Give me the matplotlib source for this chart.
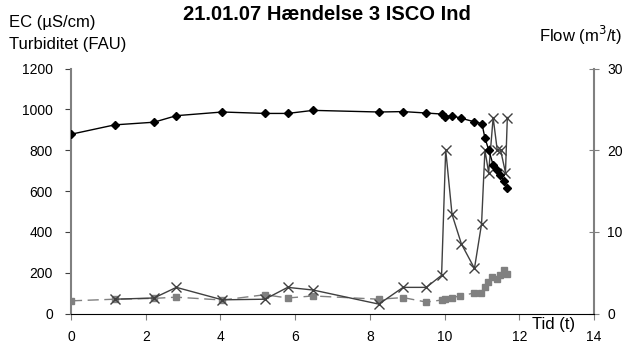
import matplotlib
matplotlib.use('Agg')
from matplotlib import pyplot as plt

plt.rcParams['font.family'] = ['Liberation Sans', 'DejaVu Sans']

# EC (left axis)
ec_t = [0, 1.17, 2.22, 2.82, 4.05, 5.19, 5.80, 6.48, 8.24, 8.89, 9.51, 9.92, 10.0,
        10.2, 10.45, 10.78, 11.0, 11.08, 11.18, 11.30, 11.41, 11.49, 11.59, 11.68]
ec = [878, 924, 937, 969, 987, 980, 980, 995, 987, 989, 982, 977, 964,
      969, 956, 940, 930, 860, 802, 728, 704, 680, 650, 615]

# Turbidity (left axis)
turb_t = [1.17, 2.22, 2.82, 4.05, 5.19, 5.80, 6.48, 8.24, 8.89, 9.51, 9.92, 10.03,
          10.2, 10.45, 10.8, 10.99, 11.08, 11.18, 11.30, 11.41, 11.50, 11.63, 11.68]
turb = [70, 76, 128, 67, 70, 128, 115, 46, 128, 128, 187, 802,
        485, 341, 221, 439, 800, 690, 960, 800, 800, 690, 960]

# Flow (right axis)
flow_t = [0, 1.17, 2.22, 2.82, 4.05, 5.19, 5.80, 6.48, 8.24, 8.89, 9.51, 9.92, 10.02,
          10.2, 10.42, 10.78, 10.97, 11.07, 11.16, 11.28, 11.39, 11.48, 11.59, 11.68]
flow = [1.55, 1.75, 1.85, 2.0, 1.65, 2.3, 1.9, 2.15, 1.75, 1.95, 1.4, 1.65, 1.8,
        1.95, 2.15, 2.5, 2.55, 3.25, 3.8, 4.5, 4.2, 4.7, 5.3, 4.85]

fig = plt.figure(figsize=(6.26, 3.45), dpi=100)
ax = fig.add_axes([0.1134, 0.0913, 0.8355, 0.7101])
ax2 = ax.twinx()

ax2.plot(flow_t, flow, color='#808080', lw=1, ls=(0, (8, 4)), marker='s',
         markersize=4.5, zorder=1)
ax.plot(turb_t, turb, color='#404040', lw=1, marker='x', markersize=7.5,
        markeredgewidth=1, zorder=2)
ax.plot(ec_t, ec, color='black', lw=1, marker='D', markersize=4, zorder=3)

ax.set_zorder(ax2.get_zorder() + 1)
ax.patch.set_visible(False)

ax.set_xlim(0, 14)
ax.set_xticks(range(0, 15, 2))
ax.set_ylim(0, 1200)
ax.set_yticks(range(0, 1201, 200))
ax2.set_ylim(0, 30)
ax2.set_yticks([0, 10, 20, 30])

for a in (ax, ax2):
    a.spines['top'].set_visible(False)
ax.spines['left'].set_color('#808080')
ax.spines['left'].set_linewidth(1.5)
ax.spines['right'].set_visible(False)
ax2.spines['left'].set_visible(False)
ax2.spines['bottom'].set_visible(False)
ax2.spines['right'].set_color('#808080')
ax2.spines['right'].set_linewidth(1.5)
ax.spines['bottom'].set_color('black')

ax.tick_params(axis='x', direction='out', length=4, pad=8, labelsize=10, color='#808080')
ax.tick_params(axis='y', direction='out', length=4, pad=9, labelsize=10, color='#404040')
ax2.tick_params(axis='y', direction='inout', length=7, pad=6, labelsize=10, color='#808080')

fig.text(327 / 626, 1 - 14 / 345, '21.01.07 Hændelse 3 ISCO Ind', ha='center', va='center',
         fontsize=14.5, fontweight='bold')
fig.text(9 / 626, 1 - 22 / 345, 'EC (µS/cm)', ha='left', va='center', fontsize=12)
fig.text(9 / 626, 1 - 44 / 345, 'Turbiditet (FAU)', ha='left', va='center', fontsize=12)
fig.text(539 / 626, 1 - 35 / 345, 'Flow (m$^3$/t)', ha='left', va='center', fontsize=12)
fig.text(554 / 626, 1 - 325 / 345, 'Tid (t)', ha='center', va='center', fontsize=12)

fig.savefig('out.png', dpi=100)
